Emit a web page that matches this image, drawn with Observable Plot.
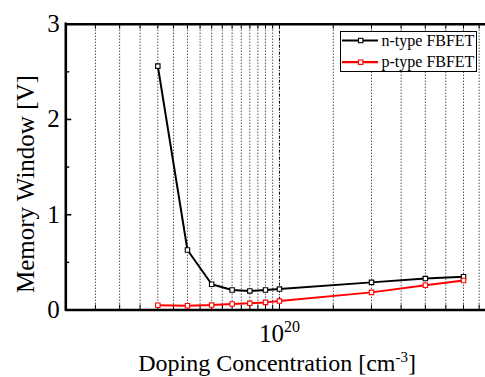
<!DOCTYPE html>
<html><head><meta charset="utf-8">
<script src="https://cdn.jsdelivr.net/npm/d3@7"></script>
<script src="https://cdn.jsdelivr.net/npm/@observablehq/plot@0.6"></script>
<style>html,body{margin:0;padding:0;background:#fff}svg{display:block}</style>
</head><body><div id="chart"></div>
<script>
// ---- data ----
const doping = [4e19, 5e19, 6e19, 7e19, 8e19, 9e19, 1e20, 2e20, 3e20, 4e20];
const nType  = [2.56, 0.63, 0.27, 0.21, 0.20, 0.21, 0.22, 0.29, 0.33, 0.35];
const pType  = [0.05, 0.045, 0.052, 0.063, 0.07, 0.08, 0.094, 0.185, 0.26, 0.31];
const seriesNames  = ["n-type FBFET", "p-type FBFET"];
const seriesColors = ["#000000", "#ff0000"];
const yTicks = [0, 1, 2, 3];
const yMinorTicks = [0.5, 1.5, 2.5];
const xLabelTicks = [1e20];
const xDomain = [2e19, 4.72e20];
const yDomain = [0, 3];
const xTitle = "Doping Concentration [cm";
const xTitleSup = "-3";
const yTitle = "Memory Window [V]";

// grid / minor tick positions: every 5e18 below 1e20, every 5e19 above
const gridX = [
  ...d3.range(25, 100, 5).map(v => v * 1e18),
  ...d3.range(10, 50, 5).map(v => v * 1e19)
];

const rows = [];
doping.forEach((d, i) => rows.push({x: d, y: nType[i], s: seriesNames[0]}));
doping.forEach((d, i) => rows.push({x: d, y: pType[i], s: seriesNames[1]}));

const font = "'Liberation Serif', 'Times New Roman', serif";
const W = 485, H = 377;
const mL = 65.3, mT = 23.7, mB = 67.5;

const plot = Plot.plot({
  width: W, height: H,
  marginLeft: mL, marginRight: 0, marginTop: mT, marginBottom: mB,
  style: {fontFamily: font, background: "#fff", color: "#000", overflow: "visible"},
  x: {type: "log", domain: xDomain, axis: null},
  y: {domain: yDomain, axis: null},
  color: {domain: seriesNames, range: seriesColors},
  marks: [
    Plot.ruleX(gridX.filter(v => v !== 1e20), {x: d => d, stroke: "#000", strokeWidth: 1, strokeDasharray: "1,2"}),
    Plot.ruleX(xLabelTicks, {x: d => d, stroke: "#000", strokeWidth: 1, strokeDasharray: "3,1.5,1,1.5"}),
    // inward ticks on top and bottom
    Plot.ruleX(gridX, {x: d => d, y1: yDomain[1], y2: yDomain[1], insetBottom: -5, stroke: "#000", strokeWidth: 1}),
    Plot.ruleX(gridX, {x: d => d, y1: yDomain[0], y2: yDomain[0], insetTop: -5, stroke: "#000", strokeWidth: 1}),
    // inward ticks on left
    Plot.ruleY(yTicks, {y: d => d, x1: xDomain[0], x2: xDomain[0], insetRight: -6, stroke: "#000", strokeWidth: 1.6}),
    Plot.ruleY(yMinorTicks, {y: d => d, x1: xDomain[0], x2: xDomain[0], insetRight: -4, stroke: "#000", strokeWidth: 1.4}),
    // frame lines
    Plot.ruleY([yDomain[0]], {stroke: "#000", strokeWidth: 2.6}),
    Plot.ruleY([yDomain[1]], {stroke: "#000", strokeWidth: 2.6}),
    Plot.ruleX([xDomain[0]], {stroke: "#000", strokeWidth: 2.6, insetTop: -1.3, insetBottom: -1.3}),
    // data
    Plot.line(rows, {x: "x", y: "y", z: "s", stroke: "s", strokeWidth: 2}),
    Plot.dot(rows, {x: "x", y: "y", stroke: "s", symbol: "square", r: 2.5, fill: "#fff", strokeWidth: 1.1}),
    // axes labels
    Plot.axisY(yTicks, {tickSize: 0, tickPadding: 6, fontSize: 25, fontFamily: font, label: null, tickFormat: d => String(d)}),
    Plot.axisX(xLabelTicks, {tickSize: 0, tickPadding: 14.5, fontSize: 25, fontFamily: font, label: null, tickFormat: () => "10"}),
    Plot.text([xTitle + xTitleSup + "]"], {frameAnchor: "bottom", lineAnchor: "middle", textAnchor: "middle", text: d => d, fontSize: 24, fontFamily: font, dy: 53.5, dx: 1.5}),
    Plot.text([yTitle], {frameAnchor: "left", lineAnchor: "middle", textAnchor: "middle", text: d => d, fontSize: 25, fontFamily: font, rotate: -90, dx: -40, dy: 17})
  ]
});

const svg = d3.select(plot);
// superscripts
svg.selectAll("text").filter(function() { return this.textContent === "10"; }).each(function() {
  d3.select(this).append("tspan").attr("dy", -10.5).attr("font-size", 16).text("20");
});
svg.selectAll("text").filter(function() { return this.textContent === xTitle + xTitleSup + "]"; }).each(function() {
  const t = d3.select(this);
  t.text(null);
  t.append("tspan").text(xTitle);
  t.append("tspan").attr("dy", -9).attr("font-size", 15).text(xTitleSup);
  t.append("tspan").attr("dy", 9).text("]");
});

// legend
const lg = svg.append("g").attr("font-family", font).attr("font-size", 16).attr("text-anchor", "start");
lg.append("rect").attr("x", 340.5).attr("y", 31.5).attr("width", 136).attr("height", 40)
  .attr("fill", "#fff").attr("stroke", "#000").attr("stroke-width", 1);
seriesNames.forEach((name, i) => {
  const yy = 40.5 + i * 21.7;
  lg.append("line").attr("x1", 342).attr("x2", 378).attr("y1", yy).attr("y2", yy)
    .attr("stroke", seriesColors[i]).attr("stroke-width", 2.2);
  lg.append("rect").attr("x", 358.5).attr("y", yy - 2.2).attr("width", 4.4).attr("height", 4.4)
    .attr("fill", "#fff").attr("stroke", seriesColors[i]).attr("stroke-width", 1.1);
  lg.append("text").attr("x", 381.5).attr("y", yy + 5).attr("fill", "#000").attr("text-anchor", "start").text(name);
});

document.getElementById("chart").appendChild(plot);
</script>
</body></html>
